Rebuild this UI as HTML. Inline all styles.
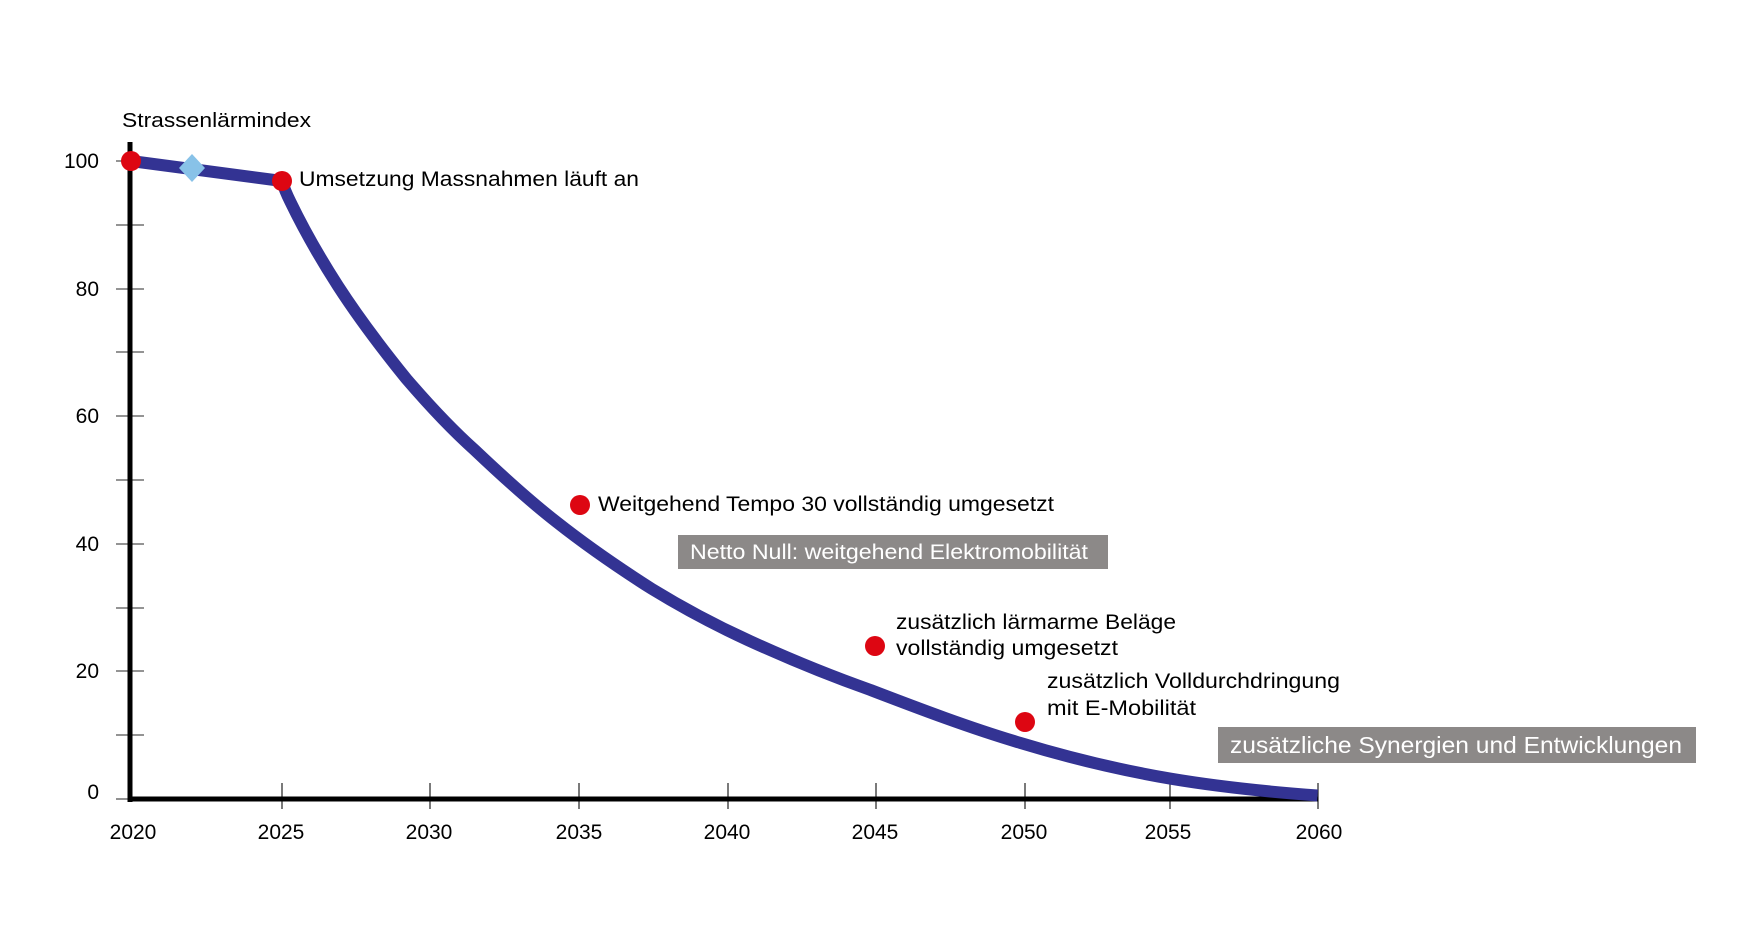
<!DOCTYPE html>
<html><head><meta charset="utf-8"><style>
html,body{margin:0;padding:0;background:#fff;}
svg{display:block;font-family:"Liberation Sans",Arial,sans-serif;}
</style></head><body>
<svg width="1752" height="943" viewBox="0 0 1752 943" xmlns="http://www.w3.org/2000/svg">
<rect width="1752" height="943" fill="#fff"/>
<g stroke="#555" stroke-width="1.3">
<line x1="116" y1="161" x2="144" y2="161"/>
<line x1="116" y1="225" x2="144" y2="225"/>
<line x1="116" y1="289" x2="144" y2="289"/>
<line x1="116" y1="352" x2="144" y2="352"/>
<line x1="116" y1="416" x2="144" y2="416"/>
<line x1="116" y1="480" x2="144" y2="480"/>
<line x1="116" y1="544" x2="144" y2="544"/>
<line x1="116" y1="608" x2="144" y2="608"/>
<line x1="116" y1="671" x2="144" y2="671"/>
<line x1="116" y1="735" x2="144" y2="735"/>
<line x1="116" y1="799" x2="131" y2="799"/>
</g>
<g stroke="#222" stroke-width="1.2">
<line x1="282" y1="783" x2="282" y2="809"/>
<line x1="430" y1="783" x2="430" y2="809"/>
<line x1="579" y1="783" x2="579" y2="809"/>
<line x1="728" y1="783" x2="728" y2="809"/>
<line x1="876" y1="783" x2="876" y2="809"/>
<line x1="1025" y1="783" x2="1025" y2="809"/>
<line x1="1170" y1="783" x2="1170" y2="809"/>
<line x1="1318" y1="783" x2="1318" y2="809"/>
</g>
<line x1="130" y1="142" x2="130" y2="802" stroke="#000" stroke-width="5"/>
<line x1="128" y1="799" x2="1318" y2="799" stroke="#000" stroke-width="5"/>
<g font-size="21" fill="#000" text-anchor="end">
<text x="99" y="168">100</text>
<text x="99" y="296">80</text>
<text x="99" y="423">60</text>
<text x="99" y="551">40</text>
<text x="99" y="678">20</text>
<text x="99" y="799">0</text>
</g>
<g font-size="21" fill="#000" text-anchor="middle">
<text x="133" y="839">2020</text>
<text x="281" y="839">2025</text>
<text x="429" y="839">2030</text>
<text x="579" y="839">2035</text>
<text x="727" y="839">2040</text>
<text x="875" y="839">2045</text>
<text x="1024" y="839">2050</text>
<text x="1168" y="839">2055</text>
<text x="1319" y="839">2060</text>
</g>
<text x="122" y="127" font-size="20" textLength="189" lengthAdjust="spacingAndGlyphs">Strassenlärmindex</text>
<path fill="none" stroke="#333393" stroke-width="12" stroke-linejoin="round"
d="M131,161 L282,181 C284,188 287,195 290.5,202 C305,232 320,258 338,286 C360,320 383,350 406.5,379 C428,404 450,428 474.7,450 C500,474 527,499 556.6,522 C587,546 619,568 652,589 C683,608 715,625 747.7,640 C787,658 828,675 870.5,690 C920,709 970,728 1020.6,743 C1070,758 1120,770 1170.8,778.7 C1220,787 1270,792 1317.5,795.5"/>
<circle cx="131" cy="161" r="10" fill="#dd0612"/>
<polygon points="192,154 205,168 192,182 179,168" fill="#88c2e8"/>
<circle cx="282" cy="181" r="10" fill="#dd0612"/>
<circle cx="580" cy="505" r="10" fill="#dd0612"/>
<circle cx="875" cy="646" r="10" fill="#dd0612"/>
<circle cx="1025" cy="722" r="10" fill="#dd0612"/>
<g font-size="21" fill="#000">
<text x="299" y="186" textLength="340" lengthAdjust="spacingAndGlyphs">Umsetzung Massnahmen läuft an</text>
<text x="598" y="511" textLength="456" lengthAdjust="spacingAndGlyphs">Weitgehend Tempo 30 vollständig umgesetzt</text>
<text x="896" y="629" textLength="280" lengthAdjust="spacingAndGlyphs">zusätzlich lärmarme Beläge</text>
<text x="896" y="655" textLength="222" lengthAdjust="spacingAndGlyphs">vollständig umgesetzt</text>
<text x="1047" y="688" textLength="293" lengthAdjust="spacingAndGlyphs">zusätzlich Volldurchdringung</text>
<text x="1047" y="715" textLength="149" lengthAdjust="spacingAndGlyphs">mit E-Mobilität</text>
</g>
<rect x="678" y="535" width="430" height="34" fill="#8c8988"/>
<text x="690" y="559" font-size="21" fill="#fff" textLength="398" lengthAdjust="spacingAndGlyphs">Netto Null: weitgehend Elektromobilität</text>
<rect x="1218" y="727" width="478" height="36" fill="#8c8988"/>
<text x="1230" y="753" font-size="23" fill="#fff" textLength="452" lengthAdjust="spacingAndGlyphs">zusätzliche Synergien und Entwicklungen</text>
</svg>
</body></html>
